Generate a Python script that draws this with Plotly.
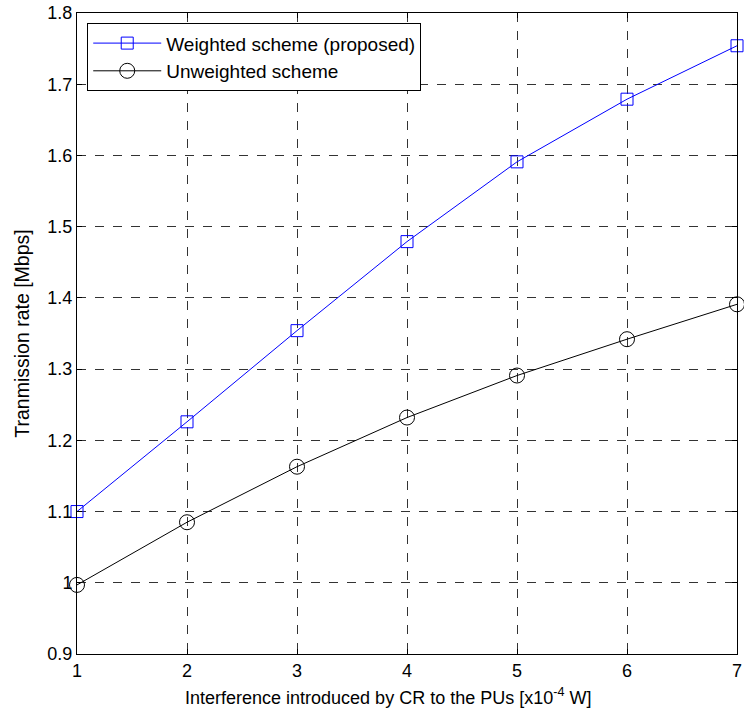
import plotly.graph_objects as go

x_vals = [1, 2, 3, 4, 5, 6, 7]
weighted = [1.100, 1.226, 1.354, 1.479, 1.591, 1.679, 1.754]
unweighted = [0.997, 1.085, 1.163, 1.232, 1.291, 1.342, 1.391]
y_ticks = [0.9, 1.0, 1.1, 1.2, 1.3, 1.4, 1.5, 1.6, 1.7, 1.8]
y_tick_text = ["0.9", "1", "1.1", "1.2", "1.3", "1.4", "1.5", "1.6", "1.7", "1.8"]
x_title = "Interference introduced by CR to the PUs [x10<sup>-4</sup> W]"
y_title = "Tranmission rate [Mbps]"

fig = go.Figure()
fig.add_trace(go.Scatter(
    x=x_vals, y=weighted, mode="lines+markers",
    name="Weighted scheme (proposed)", legendgroup="a",
    line=dict(color="#0000ff", width=1),
    marker=dict(symbol="square-open", size=12, color="#0000ff", line=dict(width=1)),
    cliponaxis=False,
))
fig.add_trace(go.Scatter(
    x=x_vals, y=unweighted, mode="lines+markers",
    name="Unweighted scheme", legendgroup="b",
    line=dict(color="#000000", width=1),
    marker=dict(symbol="circle-open", size=15, color="#000000", line=dict(width=1)),
    cliponaxis=False,
))

axis_common = dict(
    showline=True, linecolor="black", linewidth=1, mirror="ticks",
    showgrid=True, gridcolor="rgba(0,0,0,0.8)", griddash="dash", gridwidth=1,
    ticks="inside", ticklen=5, tickcolor="black",
    tickfont=dict(family="Liberation Sans, Arial", size=18, color="black"),
    zeroline=False, ticklabeloverflow="allow",
)

fig.update_layout(
    width=744, height=712,
    margin=dict(l=77, r=2, t=13, b=58),
    paper_bgcolor="white", plot_bgcolor="white",
    font=dict(family="Liberation Sans, Arial", color="black"),
    xaxis=dict(range=[1, 7], tickvals=x_vals, **axis_common),
    yaxis=dict(range=[0.9, 1.8], tickvals=y_ticks, ticktext=y_tick_text, **axis_common,
               title=dict(text=y_title, font=dict(size=19.5), standoff=12)),
    legend=dict(x=0.0155, y=0.984, xanchor="left", yanchor="top",
                bgcolor="white", bordercolor="black", borderwidth=1,
                font=dict(size=19, color="black"), tracegroupgap=0, itemwidth=68),
    showlegend=True,
)
fig.add_annotation(text=x_title, xref="paper", yref="paper", x=0.471, y=0,
                   xanchor="center", yanchor="top", yshift=-29, showarrow=False,
                   font=dict(size=18, color="black"))

fig.write_html("out.html")
